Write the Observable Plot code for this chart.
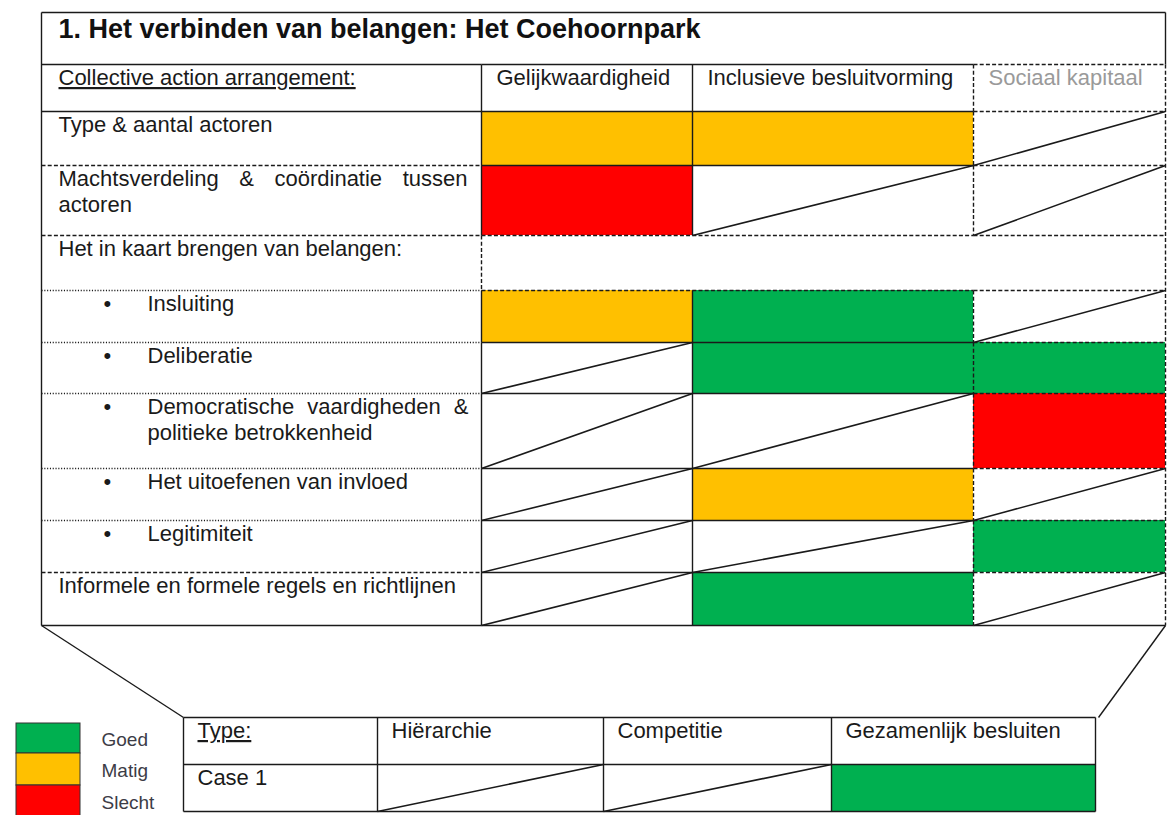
<!DOCTYPE html>
<html>
<head>
<meta charset="utf-8">
<script src="https://cdn.jsdelivr.net/npm/d3@7"></script>
<script src="https://cdn.jsdelivr.net/npm/@observablehq/plot@0.6"></script>
<style>
  html, body { margin: 0; padding: 0; background: #fff; }
  #chart svg { display: block; }
</style>
</head>
<body>
<div id="chart"></div>
<script>
// ---------------- data ----------------
const title = "1. Het verbinden van belangen: Het Coehoornpark";
const headerLabel = "Collective action arrangement:";
const columns = ["Gelijkwaardigheid", "Inclusieve besluitvorming", "Sociaal kapitaal"];
const rowLabels = [
  "Type & aantal actoren",
  "Machtsverdeling & coördinatie tussen\nactoren",
  "Het in kaart brengen van belangen:",
  "Insluiting",
  "Deliberatie",
  "Democratische vaardigheden &\npolitieke betrokkenheid",
  "Het uitoefenen van invloed",
  "Legitimiteit",
  "Informele en formele regels en richtlijnen"
];
const rowIsBullet = [false, false, false, true, true, true, true, true, false];
const rowIsGroup  = [false, false, true, false, false, false, false, false, false];
const scoreGelijkwaardigheid = ["Matig", "Slecht", null, "Matig", null, null, null, null, null];
const scoreInclusief         = ["Matig", null, null, "Goed", "Goed", null, "Matig", null, "Goed"];
const scoreSociaal           = [null, null, null, null, "Goed", "Slecht", null, "Goed", null];
const legendLabels = ["Goed", "Matig", "Slecht"];
const legendColors = ["#00B050", "#FFC000", "#FF0000"];
const typeHeader = "Type:";
const typeColumns = ["Hiërarchie", "Competitie", "Gezamenlijk besluiten"];
const caseLabel = "Case 1";
const caseScores = [null, null, "Goed"];

// ---------------- layout ----------------
const W = 1170, H = 815;
const colX = [41, 481, 692, 973, 1165];
const rowY = [12, 64, 111, 165, 235, 290, 342, 393, 468, 520, 572, 625];
const typeColX = [183, 377, 603, 831, 1095];
const typeRowY = [717, 764, 811];
const legendX = [16, 80];
const legendY = [723, 753, 785, 817];
const FS = 22, LH = 1.18, FONT = "'Liberation Sans', Arial, Helvetica, sans-serif";
const topDy = 20.5 - 0.71 * LH * FS; // first baseline ~21px below cell top
const ink = "#1a1a1a";

// ---------------- derived tables ----------------
const scores = [scoreGelijkwaardigheid, scoreInclusief, scoreSociaal];
const cells = [];
rowLabels.forEach((lab, r) => {
  if (rowIsGroup[r]) return;
  scores.forEach((s, c) => cells.push({x1: colX[c + 1], x2: colX[c + 2], y1: rowY[r + 2], y2: rowY[r + 3], score: s[r]}));
});
caseScores.forEach((s, c) => cells.push({x1: typeColX[c + 1], x2: typeColX[c + 2], y1: typeRowY[1], y2: typeRowY[2], score: s}));

const segs = [];
const seg = (x1, y1, x2, y2, kind) => segs.push({x1, y1, x2, y2, kind});
seg(colX[0], rowY[0], colX[4], rowY[0], "solid");
seg(colX[0], rowY[0], colX[0], rowY[11], "solid");
seg(colX[4], rowY[0], colX[4], rowY[1], "solid");
seg(colX[4], rowY[1], colX[4], rowY[11], "dashed");
const labelLineKinds = ["solid", "solid", "dashed", "dashed", "dotted", "dotted", "dotted", "dotted", "dotted", "dashed", "solid"];
for (let i = 1; i <= 11; i++) {
  const y = rowY[i];
  seg(colX[0], y, colX[1], y, labelLineKinds[i - 1]);
  const nearGroup = rowIsGroup[i - 3] || rowIsGroup[i - 2];
  seg(colX[1], y, colX[3], y, (i === 1 || i === 11) ? "solid" : nearGroup ? "dashed" : "solid");
  seg(colX[3], y, colX[4], y, i === 11 ? "solid" : "dashed");
}
for (let k = 1; k <= 10; k++) {
  const r = k - 2, group = r >= 0 && rowIsGroup[r];
  const ya = rowY[k], yb = rowY[k + 1];
  seg(colX[1], ya, colX[1], yb, group ? "dashed" : "solid");
  if (!group) { seg(colX[2], ya, colX[2], yb, "solid"); seg(colX[3], ya, colX[3], yb, "dashed"); }
}
// type table
typeRowY.forEach(y => seg(typeColX[0], y, typeColX[4], y, "solid"));
typeColX.forEach(x => seg(x, typeRowY[0], x, typeRowY[2], "solid"));
// connectors
seg(colX[0], rowY[11], typeColX[0], typeRowY[0], "solid");
seg(colX[4], rowY[11], typeColX[4] + 3, typeRowY[0], "solid");

const diagonals = cells.filter(d => d.score == null);

const texts = [];
texts.push({x: colX[0] + 17, y: rowY[1], text: headerLabel, fill: ink});
columns.forEach((c, i) => texts.push({x: colX[i + 1] + 15, y: rowY[1], text: c, fill: i === 2 ? "#9a9a9a" : ink}));
rowLabels.forEach((l, r) => texts.push({x: rowIsBullet[r] ? colX[0] + 106 : colX[0] + 17, y: rowY[r + 2], text: l, fill: ink}));
texts.push({x: typeColX[0] + 14, y: typeRowY[0], text: typeHeader, fill: ink});
typeColumns.forEach((c, i) => texts.push({x: typeColX[i + 1] + 14, y: typeRowY[0], text: c, fill: ink}));
texts.push({x: typeColX[0] + 14, y: typeRowY[1], text: caseLabel, fill: ink});
const bullets = rowLabels.map((l, r) => ({x: colX[0] + 62, y: rowY[r + 2], text: "\u2022"})).filter((d, r) => rowIsBullet[r]);

const legend = legendLabels.map((l, i) => ({label: l, y1: legendY[i], y2: legendY[i + 1], ym: (legendY[i] + legendY[i + 1]) / 2}));

const dash = {solid: null, dashed: "4,2.2", dotted: "1.1,1.7"};

const chart = Plot.plot({
  width: W, height: H, margin: 0,
  x: {domain: [0, W], range: [0, W], axis: null},
  y: {domain: [0, H], range: [0, H], axis: null},
  color: {type: "ordinal", domain: legendLabels, range: legendColors},
  style: {background: "#fff", overflow: "hidden"},
  marks: [
    Plot.rect(cells.filter(d => d.score != null), {x1: "x1", x2: "x2", y1: "y1", y2: "y2", fill: "score"}),
    Plot.rect(legend, {x1: legendX[0], x2: legendX[1], y1: "y1", y2: "y2", fill: "label", stroke: "#333", strokeWidth: 1}),
    Plot.link(diagonals, {x1: "x1", y1: "y2", x2: "x2", y2: "y1", stroke: ink, strokeWidth: 1.6}),
    ...["solid", "dashed", "dotted"].map(k => Plot.link(segs.filter(s => s.kind === k), {
      x1: "x1", y1: "y1", x2: "x2", y2: "y2", stroke: ink, strokeWidth: 1.4, strokeDasharray: dash[k]
    })),
    Plot.text([title], {x: colX[0] + 17, y: rowY[0], dy: 25, text: d => d, textAnchor: "start", lineAnchor: "bottom",
      fontSize: 27, fontWeight: "bold", fontFamily: FONT, fill: "#111"}),
    Plot.text(texts, {x: "x", y: "y", dy: topDy, text: "text", fill: "fill", textAnchor: "start", lineAnchor: "top",
      lineHeight: LH, fontSize: FS, fontFamily: FONT}),
    Plot.text(bullets, {x: "x", y: "y", dy: topDy, text: "text", textAnchor: "start", lineAnchor: "top",
      lineHeight: LH, fontSize: FS, fontFamily: FONT, fill: ink}),
    Plot.text(legend, {x: legendX[1] + 21, y: "ym", dy: 1, text: "label", textAnchor: "start", lineAnchor: "middle",
      fontSize: 19, fontFamily: FONT, fill: "#3c3c46"})
  ]
});

document.getElementById("chart").appendChild(chart);

// underline header labels, justify two wrapped first lines
const underlined = [headerLabel, typeHeader];
const justify = {"Machtsverdeling & coördinatie tussen": colX[1] - 14 - (colX[0] + 17),
                 "Democratische vaardigheden &": colX[1] - 13 - (colX[0] + 106)};
d3.select(chart).selectAll("text").each(function () {
  if (underlined.includes(this.textContent)) this.style.textDecoration = "underline";
});
d3.select(chart).selectAll("tspan").each(function () {
  const t = this.textContent;
  if (justify[t] != null) {
    const natural = this.getComputedTextLength();
    const spaces = (t.match(/ /g) || []).length;
    this.style.wordSpacing = ((justify[t] - natural) / spaces) + "px";
  }
});
</script>
</body>
</html>
